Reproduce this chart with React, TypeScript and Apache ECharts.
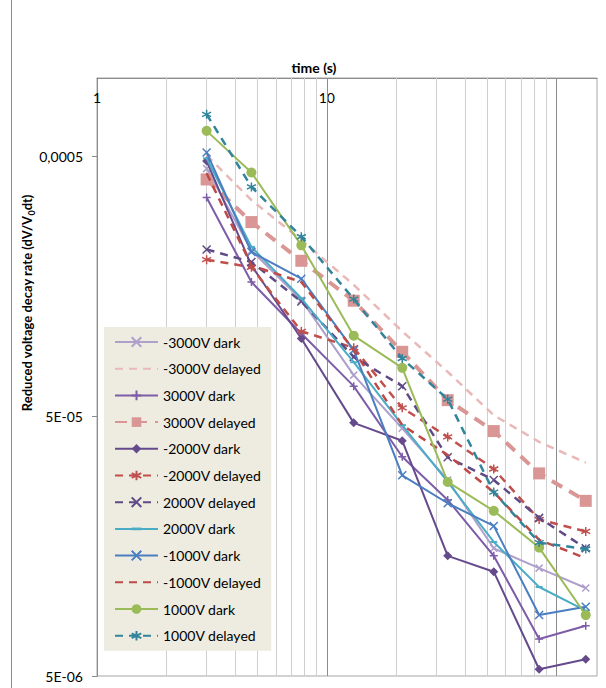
import React, { useEffect, useRef } from 'react';
import * as echarts from 'echarts';

// ---- data ----
const times = [3, 4.7, 7.75, 13.1, 21.3, 33.6, 53.3, 84, 134];

const seriesNames = [
  '-3000V dark', '-3000V delayed', '3000V dark', '3000V delayed',
  '-2000V dark', '-2000V delayed', '2000V delayed', '2000V dark',
  '-1000V dark', '-1000V delayed', '1000V dark', '1000V delayed',
];

const neg3000Dark = [4.48e-4, 2.17e-4, 1.40e-4, 7.19e-5, 4.49e-5, 2.84e-5, 1.55e-5, 1.30e-5, 1.09e-5];
const neg3000Delayed = [5.04e-4, 3.39e-4, 2.38e-4, 1.60e-4, 1.06e-4, 7.40e-5, 5.04e-5, 3.98e-5, 3.31e-5];
const pos3000Dark = [3.47e-4, 1.64e-4, 1.04e-4, 6.52e-5, 3.49e-5, 2.38e-5, 1.45e-5, 6.94e-6, 7.81e-6];
const pos3000Delayed = [4.07e-4, 2.79e-4, 1.98e-4, 1.39e-4, 8.84e-5, 5.76e-5, 4.38e-5, 3.01e-5, 2.36e-5];
const neg2000Dark = [4.79e-4, 1.90e-4, 9.95e-5, 4.71e-5, 4.02e-5, 1.45e-5, 1.26e-5, 5.31e-6, 5.80e-6];
const neg2000Delayed = [2.00e-4, 1.87e-4, 1.06e-4, 9.16e-5, 5.38e-5, 4.16e-5, 3.13e-5, 2.00e-5, 1.80e-5];
const pos2000Delayed = [2.19e-4, 1.96e-4, 1.38e-4, 8.45e-5, 6.52e-5, 3.47e-5, 2.84e-5, 2.03e-5, 1.55e-5];
const pos2000Dark = [4.91e-4, 2.24e-4, 1.42e-4, 8.06e-5, 4.62e-5, 2.79e-5, 1.64e-5, 1.10e-5, 8.92e-6];
const neg1000Dark = [5.17e-4, 2.14e-4, 1.69e-4, 8.97e-5, 2.96e-5, 2.31e-5, 1.89e-5, 8.58e-6, 9.24e-6];
const neg1000Delayed = [4.30e-4, 1.90e-4, 1.64e-4, 8.97e-5, 4.62e-5, 3.54e-5, 2.55e-5, 1.67e-5, 1.42e-5];
const pos1000Dark = [6.26e-4, 4.33e-4, 2.27e-4, 1.02e-4, 7.67e-5, 2.79e-5, 2.16e-5, 1.56e-5, 8.58e-6];
const pos1000Delayed = [7.25e-4, 3.81e-4, 2.45e-4, 1.41e-4, 8.33e-5, 5.81e-5, 2.55e-5, 1.63e-5, 1.54e-5];

const seriesValues = [
  neg3000Dark, neg3000Delayed, pos3000Dark, pos3000Delayed,
  neg2000Dark, neg2000Delayed, pos2000Delayed, pos2000Dark,
  neg1000Dark, neg1000Delayed, pos1000Dark, pos1000Delayed,
];

const xTickValues = [1, 10, 100];
const xMinorGrid = [2, 3, 4, 5, 6, 7, 8, 9, 20, 30, 40, 50, 60, 70, 80, 90];
const xMajorGrid = [10, 100];
const yTickValues = [5e-6, 5e-5, 5e-4];
const yTickLabels = ['5E-06', '5E-05', '0,0005'];
const yMinorGrid = [
  1e-5, 1.5e-5, 2e-5, 2.5e-5, 3e-5, 3.5e-5, 4e-5, 4.5e-5,
  1e-4, 1.5e-4, 2e-4, 2.5e-4, 3e-4, 3.5e-4, 4e-4, 4.5e-4,
];
const yMajorGrid = [5e-5, 5e-4];

// ---- styles ----
const X_PATH = 'path://M0,0L10,10M10,0L0,10';
const PLUS_PATH = 'path://M5,0L5,10M0,5L10,5';
const STAR_PATH = 'path://M5,0L5,10M0.7,2.5L9.3,7.5M9.3,2.5L0.7,7.5';
// short horizontal dash inside a square bounding box (corner points only widen the box)
const DASH_PATH = 'path://M0,0L0,0M0,3.6L10,3.6L10,6.4L0,6.4ZM10,10L10,10';

type Sty = { color: string; width: number; type: any; symbol: string; size: any };
const styles: Sty[] = [
  { color: '#AE9FCB', width: 2, type: 'solid', symbol: X_PATH, size: 7 },
  { color: '#E8B9B8', width: 2.5, type: [8, 6], symbol: 'none', size: 0 },
  { color: '#7D5CA8', width: 2, type: 'solid', symbol: PLUS_PATH, size: 8 },
  { color: '#D99694', width: 4, type: [12, 8], symbol: 'rect', size: 12 },
  { color: '#654A8C', width: 2, type: 'solid', symbol: 'diamond', size: 9 },
  { color: '#C0504D', width: 2.5, type: [8, 6], symbol: STAR_PATH, size: 9 },
  { color: '#5F4A86', width: 2.5, type: [8, 6], symbol: X_PATH, size: 8 },
  { color: '#4BACC6', width: 2, type: 'solid', symbol: DASH_PATH, size: 7 },
  { color: '#4A7EC0', width: 2, type: 'solid', symbol: X_PATH, size: 8 },
  { color: '#BE4A47', width: 2.5, type: [8, 6], symbol: 'none', size: 0 },
  { color: '#9BBB59', width: 2, type: 'solid', symbol: 'circle', size: 10 },
  { color: '#31849B', width: 2.5, type: [8, 6], symbol: STAR_PATH, size: 9 },
];

const FONT = 'Lato, "Open Sans", sans-serif';

export default function App() {
  const ref = useRef<HTMLDivElement>(null);
  useEffect(() => {
    if (!ref.current) return;
    const chart = echarts.init(ref.current, undefined, { renderer: 'svg' });

    const dataSeries = seriesNames.map((name, k) => {
      const s = styles[k];
      return {
        name,
        type: 'line',
        data: times.map((t, i) => [t, seriesValues[k][i]]),
        symbol: s.symbol,
        symbolSize: s.size,
        showSymbol: s.symbol !== 'none',
        lineStyle: { color: s.color, width: s.width, type: s.type },
        itemStyle: { color: s.color, borderColor: s.color, borderWidth: s.symbol.startsWith('path') && s.symbol !== DASH_PATH ? 1.5 : 0 },
        z: 3 + k * 0.01,
        clip: false,
      };
    });

    const legendData = seriesNames.map((name, k) =>
      styles[k].symbol === 'none'
        ? { name, itemStyle: { color: 'rgba(0,0,0,0)', borderWidth: 0, opacity: 0 } }
        : { name }
    );

    const gridLines: any[] = [];
    xMinorGrid.forEach((v) => gridLines.push({ xAxis: v, lineStyle: { color: '#CFCFCF', width: 1, type: 'solid' } }));
    yMinorGrid.forEach((v) => gridLines.push({ yAxis: v, lineStyle: { color: '#CFCFCF', width: 1, type: 'solid' } }));
    xMajorGrid.forEach((v) => gridLines.push({ xAxis: v, lineStyle: { color: '#8C8C8C', width: 1, type: 'solid' } }));
    yMajorGrid.forEach((v) => gridLines.push({ yAxis: v, lineStyle: { color: '#8C8C8C', width: 1, type: 'solid' } }));

    const option: any = {
      animation: false,
      grid: { left: 97, top: 78, width: 500, height: 598, show: true, borderColor: '#A6A6A6', borderWidth: 1 },
      xAxis: {
        type: 'log',
        logBase: 10,
        min: 1,
        max: 150,
        position: 'top',
        axisLine: { show: true, lineStyle: { color: '#8C8C8C', width: 1 } },
        axisTick: { show: false },
        splitLine: { show: false },
        axisLabel: {
          inside: true,
          margin: 12,
          customValues: xTickValues,
          showMaxLabel: false,
          fontFamily: FONT,
          fontSize: 14,
          color: '#000',
          formatter: (v: number) => String(Math.round(v)),
        },
      },
      yAxis: {
        type: 'log',
        logBase: 10,
        min: 5e-6,
        max: 1e-3,
        axisLine: { show: true, lineStyle: { color: '#8C8C8C', width: 1 } },
        axisTick: { show: true, length: 5, customValues: yTickValues, lineStyle: { color: '#8C8C8C' } },
        splitLine: { show: false },
        axisLabel: {
          margin: 14,
          customValues: yTickValues,
          fontFamily: FONT,
          fontSize: 14,
          color: '#000',
          formatter: (v: number) => {
            const idx = yTickValues.findIndex((t) => Math.abs(v / t - 1) < 1e-6);
            return idx >= 0 ? yTickLabels[idx] : '';
          },
        },
      },
      legend: {
        data: legendData,
        orient: 'vertical',
        left: 104,
        top: 327,
        padding: [8, 10, 8, 10],
        itemWidth: 43,
        itemHeight: 12,
        itemGap: 12.7,
        backgroundColor: '#EEECE1',
        textStyle: { fontFamily: FONT, fontSize: 14, color: '#000' },
        selectedMode: false,
      },
      series: [
        {
          name: '__grid',
          type: 'line',
          data: [],
          silent: true,
          z: 1,
          markLine: {
            silent: true,
            z: 1,
            symbol: ['none', 'none'],
            label: { show: false },
            emphasis: { disabled: true },
            data: gridLines,
          },
        },
        ...dataSeries,
      ],
      graphic: [
        {
          type: 'line',
          shape: { x1: 11.5, y1: 0, x2: 11.5, y2: 688 },
          style: { stroke: '#8C8C8C', lineWidth: 1 },
        },
        {
          type: 'text',
          x: 314,
          y: 67,
          style: {
            text: 'time (s)',
            font: `bold 14px ${FONT}`,
            fill: '#000',
            align: 'center',
            verticalAlign: 'middle',
          },
        },
        {
          type: 'text',
          x: 27,
          y: 303,
          rotation: Math.PI / 2,
          style: {
            text: '{b|Reduced voltage decay rate (dV/V}{s|0}{b|dt)}',
            rich: {
              b: { font: `bold 13px ${FONT}`, fill: '#000', verticalAlign: 'bottom' },
              s: { font: `bold 9px ${FONT}`, fill: '#000', verticalAlign: 'bottom', padding: [0, 0, -2, 0] },
            },
            align: 'center',
            verticalAlign: 'middle',
          },
        },
      ],
    };
    chart.setOption(option);
    return () => chart.dispose();
  }, []);
  return <div ref={ref} style={{ width: 606, height: 688, position: 'absolute', left: 0, top: 0 }} />;
}
